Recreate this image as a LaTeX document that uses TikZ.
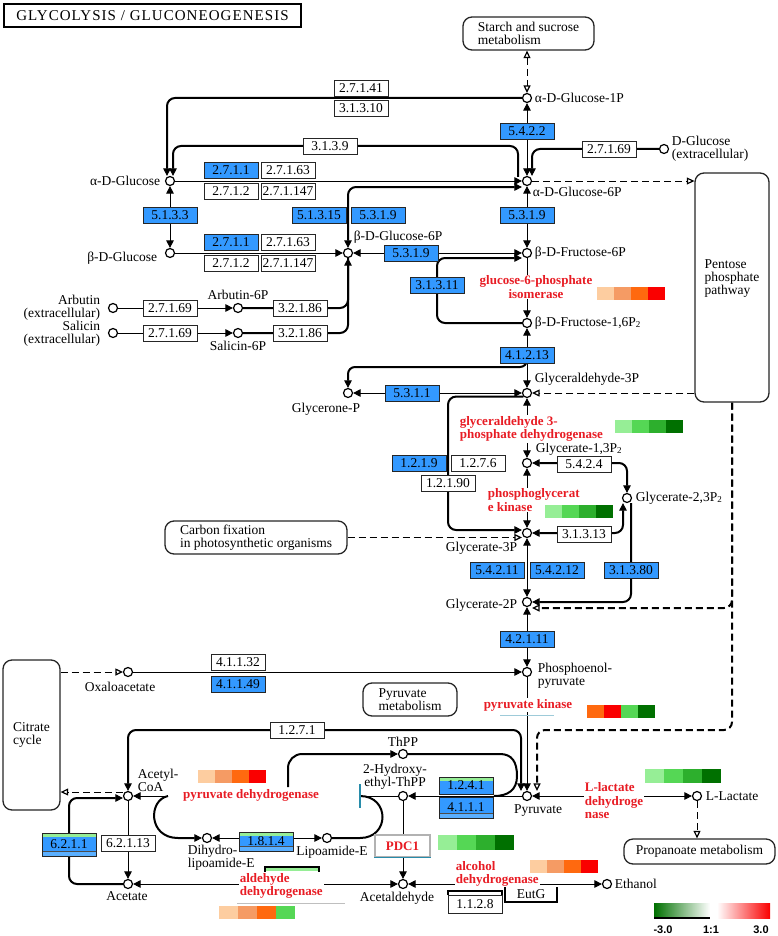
\documentclass[tikz,border=0pt]{standalone}
\usepackage{fontspec}
\setmainfont{Liberation Serif}
\setsansfont{Liberation Sans}
\newfontfamily\titrefont[LetterSpace=7]{Liberation Serif}
\usepackage{tikz}
\usepackage{xcolor}
\usetikzlibrary{arrows.meta,backgrounds,positioning}
\definecolor{bleuEC}{RGB}{51,153,255}
\definecolor{bleuClair}{RGB}{90,175,255}
\definecolor{rougeGene}{RGB}{232,28,36}
\definecolor{sarcelle}{RGB}{40,140,170}
\definecolor{peche}{RGB}{253,205,160}
\definecolor{saumon}{RGB}{245,155,100}
\definecolor{orangeV}{RGB}{255,105,15}
\definecolor{rougeV}{RGB}{250,0,0}
\definecolor{vert1}{RGB}{150,238,150}
\definecolor{vert2}{RGB}{85,215,85}
\definecolor{vert3}{RGB}{45,175,45}
\definecolor{vert4}{RGB}{0,112,0}
\newcommand{\Pdeux}{P\raisebox{-1.5pt}{\fontsize{9}{9}\selectfont 2}}
\newcommand{\Damier}[5]{\foreach \coul [count=\rang from 0] in {#5} {\fill[\coul] (#1+#3*\rang,#2) rectangle +(#3,#4);}}
\tikzset{
Compose/.style={
 circle, draw=black, fill=white, minimum size=9pt, inner sep=0pt, line width=1.2pt
 },
NomC/.style={
 font=\fontsize{13.5}{13}\selectfont, inner sep=1pt, align=left
 },
EnzB/.style={
 draw=black!85, fill=white, minimum width=54pt, minimum height=16pt, inner sep=0pt,
 line width=0.9pt, font=\fontsize{13.5}{13.5}\selectfont
 },
EnzBleu/.style={EnzB, fill=bleuEC},
BandeVerte/.style={
 path picture={\fill[vert1] (path picture bounding box.north west) rectangle ([yshift=-3.5pt]path picture bounding box.north east);}
 },
BandeBasse/.style={
 path picture={\fill[bleuClair] (path picture bounding box.south west) rectangle ([yshift=4.5pt]path picture bounding box.south east);
 \draw[line width=0.8pt,black!70] ([yshift=4.5pt]path picture bounding box.south west) -- ([yshift=4.5pt]path picture bounding box.south east);}
 },
BandeDouble/.style={
 path picture={\fill[vert1] (path picture bounding box.north west) rectangle ([yshift=-3.5pt]path picture bounding box.north east);
 \fill[bleuClair] (path picture bounding box.south west) rectangle ([yshift=4.5pt]path picture bounding box.south east);
 \draw[line width=0.8pt,black!70] ([yshift=4.5pt]path picture bounding box.south west) -- ([yshift=4.5pt]path picture bounding box.south east);}
 },
Carte/.style={
 draw=black!85, fill=white, rounded corners=9pt, line width=1.3pt, inner sep=0pt,
 align=left, font=\fontsize{13.5}{13}\selectfont
 },
Gene/.style={
 text=rougeGene, fill=white, inner sep=1pt, align=left, font=\bfseries\fontsize{13}{13.5}\selectfont
 },
Courbe/.style={line width=2pt},
Coude/.style={Courbe, rounded corners=8pt},
Pointille/.style={dash pattern=on 7pt off 4pt},
Fo/.tip={Triangle[open,length=7.5pt,width=7pt,line width=1.2pt]}
}
\begin{document}
\begin{tikzpicture}[x=1pt,y=-1pt,line width=1.7pt,>={Triangle[length=7.5pt,width=7.5pt,line width=0.8pt]}]
\useasboundingbox (0,0) rectangle (778,936);
\node[draw=black, line width=2.6pt, minimum width=297pt, minimum height=23pt, inner sep=0pt, font=\titrefont\fontsize{15}{15}\selectfont] (titre) at (152.5,15.5) {GLYCOLYSIS / GLUCONEOGENESIS};

\node[Carte, minimum width=131pt, minimum height=33pt] (amidon) at (528.5,33.5) {Starch and sucrose\\metabolism};
\node[Carte, minimum width=74pt, minimum height=229pt] (ppp) at (732,287.5) {};
\node[NomC] (tppp) at (732,279) {Pentose\\phosphate\\pathway};
\node[Carte, minimum width=182pt, minimum height=33pt] (fixc) at (256,537.5) {Carbon fixation\\in photosynthetic organisms};
\node[Carte, minimum width=57pt, minimum height=150pt] (citrate) at (31.5,735) {Citrate\\cycle};
\node[Carte, minimum width=94pt, minimum height=33pt] (pyrmet) at (410,699.5) {Pyruvate\\metabolism};
\node[Carte, minimum width=151pt, minimum height=25pt] (propa) at (699.5,851.5) {Propanoate metabolism};

\node[Compose] (g1p) at (527,98) {};
\node[NomC, right=1pt of g1p] (tg1p) {α-D-Glucose-1P};
\node[Compose] (g6p) at (527,181) {};
\node[NomC, anchor=west] (tg6p) at (531,192) {α-D-Glucose-6P};
\node[Compose] (dglce) at (664,149) {};
\node[NomC, right=1pt of dglce] (tdglce) {D-Glucose\\(extracellular)};
\node[Compose] (aglc) at (170,181) {};
\node[NomC, left=3pt of aglc] (taglc) {α-D-Glucose};
\node[Compose] (bglc) at (170,253) {};
\node[NomC, anchor=east] (tbglc) at (159,258) {β-D-Glucose};
\node[Compose] (bg6p) at (348,253) {};
\node[NomC, anchor=west] (tbg6p) at (352,237) {β-D-Glucose-6P};
\node[Compose] (f6p) at (527,253) {};
\node[NomC, right=1pt of f6p] (tf6p) {β-D-Fructose-6P};
\node[Compose] (f16p) at (527,323) {};
\node[NomC, right=1pt of f16p] (tf16p) {β-D-Fructose-1,6\Pdeux};
\node[Compose] (ga3p) at (527,393) {};
\node[NomC, anchor=west] (tga3p) at (533,379) {Glyceraldehyde-3P};
\node[Compose] (dhap) at (348,393) {};
\node[NomC] (tdhap) at (326,409) {Glycerone-P};
\node[Compose] (bpg13) at (527,463) {};
\node[NomC, anchor=west] (tbpg13) at (534,449) {Glycerate-1,3\Pdeux};
\node[Compose] (bpg23) at (627,498) {};
\node[NomC, right=2pt of bpg23] (tbpg23) {Glycerate-2,3\Pdeux};
\node[Compose] (pg3) at (527,533) {};
\node[NomC, anchor=east] (tpg3) at (519,548) {Glycerate-3P};
\node[Compose] (g2p) at (527,602) {};
\node[NomC, anchor=east] (tg2p) at (519,605) {Glycerate-2P};
\node[Compose] (pep) at (527,672) {};
\node[NomC, anchor=west] (tpep) at (536,676) {Phosphoenol-\\pyruvate};
\node[Compose] (oaa) at (128,672) {};
\node[NomC] (toaa) at (120,687) {Oxaloacetate};
\node[Compose] (pyr) at (527,796) {};
\node[NomC] (tpyr) at (538,811) {Pyruvate};
\node[Compose] (lac) at (697,796) {};
\node[NomC, right=2pt of lac] (tlac) {L-Lactate};
\node[Compose] (thpp) at (403,754) {};
\node[NomC] (tthpp) at (403,742) {ThPP};
\node[Compose] (hetpp) at (403,796) {};
\node[NomC, align=center] (thetpp) at (395,777) {2-Hydroxy-\\ethyl-ThPP};
\node[Compose] (acal) at (403,884) {};
\node[NomC] (tacal) at (397,898) {Acetaldehyde};
\node[Compose] (etoh) at (607,884) {};
\node[NomC, right=1pt of etoh] (tetoh) {Ethanol};
\node[Compose] (acoa) at (128,796) {};
\node[NomC, anchor=west] (tacoa) at (136,780) {Acetyl-\\CoA};
\node[Compose] (acet) at (128,884) {};
\node[NomC] (tacet) at (127,896) {Acetate};
\node[Compose] (dhl) at (207,838) {};
\node[NomC, anchor=west] (tdhl) at (186,858) {Dihydro-\\lipoamide-E};
\node[Compose] (lip) at (327,838) {};
\node[NomC] (tlip) at (332,852) {Lipoamide-E};
\node[Compose] (arb) at (113,308) {};
\node[NomC, align=right, anchor=east] (tarb) at (102,308) {Arbutin\\(extracellular)};
\node[Compose] (sal) at (113,333) {};
\node[NomC, align=right, anchor=east] (tsal) at (102,334) {Salicin\\(extracellular)};
\node[Compose] (arb6p) at (238,308) {};
\node[NomC, above=1pt of arb6p] (tarb6p) {Arbutin-6P};
\node[Compose] (sal6p) at (238,333) {};
\node[NomC, below=1pt of sal6p] (tsal6p) {Salicin-6P};

\node[EnzB] (e2741) at (361,88) {2.7.1.41};
\node[EnzB] (e31310) at (361,108) {3.1.3.10};
\node[EnzB] (e3139) at (330,146) {3.1.3.9};
\node[EnzBleu] (e2711a) at (231,170) {2.7.1.1};
\node[EnzB] (e27163a) at (288,170) {2.7.1.63};
\node[EnzB] (e2712a) at (231,191) {2.7.1.2};
\node[EnzB] (e271147a) at (288,191) {2.7.1.147};
\node[EnzBleu] (e5133) at (170,215) {5.1.3.3};
\node[EnzBleu] (e51315) at (319,215) {5.1.3.15};
\node[EnzBleu] (e5319a) at (378,215) {5.3.1.9};
\node[EnzBleu] (e2711b) at (231,242) {2.7.1.1};
\node[EnzB] (e27163b) at (288,242) {2.7.1.63};
\node[EnzB] (e2712b) at (231,263) {2.7.1.2};
\node[EnzB] (e271147b) at (288,263) {2.7.1.147};
\node[EnzBleu] (e5422) at (527,131) {5.4.2.2};
\node[EnzB] (e27169c) at (609,149) {2.7.1.69};
\node[EnzBleu] (e5319b) at (527,215) {5.3.1.9};
\node[EnzBleu] (e5319c) at (411,253) {5.3.1.9};
\node[EnzBleu] (e31311) at (437,285) {3.1.3.11};
\node[EnzB] (e27169a) at (170,308) {2.7.1.69};
\node[EnzB] (e27169b) at (170,333) {2.7.1.69};
\node[EnzB] (e32186a) at (300,308) {3.2.1.86};
\node[EnzB] (e32186b) at (300,333) {3.2.1.86};
\node[EnzBleu] (e41213) at (527,355) {4.1.2.13};
\node[EnzBleu] (e5311) at (412,393) {5.3.1.1};
\node[EnzBleu] (e1219) at (419,463) {1.2.1.9};
\node[EnzB] (e1276) at (478,463) {1.2.7.6};
\node[EnzB] (e12190) at (448,483) {1.2.1.90};
\node[EnzB] (e5424) at (584,464) {5.4.2.4};
\node[EnzB] (e31313) at (584,534) {3.1.3.13};
\node[EnzBleu] (e54211) at (497,570) {5.4.2.11};
\node[EnzBleu] (e54212) at (557,570) {5.4.2.12};
\node[EnzBleu] (e31380) at (631,570) {3.1.3.80};
\node[EnzBleu] (e42111) at (527,639) {4.2.1.11};
\node[EnzB] (e41132) at (238,662) {4.1.1.32};
\node[EnzBleu] (e41149) at (238,684) {4.1.1.49};
\node[EnzB] (e1271) at (297,730) {1.2.7.1};
\node[EnzBleu, BandeVerte, minimum height=17pt] (e1241) at (466,785.5) {1.2.4.1};
\node[EnzBleu, BandeBasse, minimum height=21pt] (e4111) at (466,807.5) {4.1.1.1};
\node[EnzBleu, BandeDouble, minimum height=23pt] (e6211) at (69,844.5) {6.2.1.1};
\node[EnzB] (e62113) at (128,843) {6.2.1.13};
\node[EnzBleu, BandeDouble, minimum height=19pt] (e1814) at (266,841.5) {1.8.1.4};
\node[EnzB, minimum height=18pt] (e1128) at (475,904.5) {1.1.2.8};
\node[NomC] (eutg) at (531,894) {EutG};
\node[draw=black!30, fill=white, minimum width=55pt, minimum height=22pt, inner sep=0pt, text=rougeGene, font=\bfseries\fontsize{13}{13}\selectfont] (pdc1) at (402.5,846) {PDC1};

\node[Gene, align=center] (g6pi) at (536,287) {glucose-6-phosphate\\isomerase};
\node[Gene, anchor=west] (gapdh) at (458,429) {glyceraldehyde 3-\\phosphate dehydrogenase};
\node[Gene, anchor=west] (pgk) at (486,500) {phosphoglycerat\\e kinase};
\node[Gene] (pk) at (528,705) {pyruvate kinase};
\node[Gene, anchor=west] (ldh) at (583,801) {L-lactate\\dehydroge\\nase};
\node[Gene] (pdh) at (251,795) {pyruvate dehydrogenase};
\node[Gene, anchor=west] (aldh) at (238,886) {aldehyde\\dehydrogenase};
\node[Gene, anchor=west] (adh) at (454,874) {alcohol\\dehydrogenase};

\Damier{597}{287}{17}{13}{peche,saumon,orangeV,rougeV}
\Damier{615}{420}{17}{13}{vert1,vert2,vert3,vert4}
\Damier{545}{505}{17}{13}{vert1,vert2,vert3,vert4}
\Damier{587}{705}{17}{13}{orangeV,rougeV,vert2,vert4}
\Damier{645}{769}{19}{14}{vert1,vert2,vert3,vert4}
\Damier{198}{770}{17}{13}{peche,saumon,orangeV,rougeV}
\Damier{219}{906}{19}{13}{peche,saumon,orangeV,vert2}
\Damier{438}{835}{19}{15}{vert1,vert2,vert3,vert4}
\Damier{530}{860}{17}{13}{peche,saumon,orangeV,rougeV}

\draw[sarcelle, line width=1.2pt] (pdc1.south west) -- (pdc1.south east);
\draw[sarcelle!45, line width=0.8pt] (500,715) -- (554,715);
\draw[black!25, line width=0.8pt] (237,903) -- (345,903);
\fill[vert1] (265,867) rectangle (319,871);
\draw[line width=1.2pt] (265,872) -- (265,867) -- (319,867) -- (319,872);
\draw[line width=1.2pt] (448,895) -- (448,891) -- (502,891) -- (502,895);
\draw[line width=1.2pt] (505,887) -- (505,902) -- (557,902) -- (557,887);
\draw[sarcelle, line width=1.6pt] (360,784) -- (360,808);

\shade[left color=vert4, right color=white] (654,903) rectangle (710,918);
\draw[line width=1.2pt] (654,918) -- (710,918);
\shade[left color=white, right color=rougeV] (717,903) rectangle (770,918);
\node[font=\sffamily\bfseries\fontsize{11}{11}\selectfont] (lgA) at (663,930) {-3.0};
\node[font=\sffamily\bfseries\fontsize{11}{11}\selectfont] (lgB) at (711,930) {1:1};
\node[font=\sffamily\bfseries\fontsize{11}{11}\selectfont] (lgC) at (761,930) {3.0};

\coordinate (c3139) at (518,177);
\coordinate (cAld) at (527,359);
\coordinate (cTh) at (288,787);
\coordinate (cBarre) at (360,796);
\coordinate (cPdh) at (168,796);
\begin{scope}[on background layer]
\draw[Pointille, Fo-Fo] (amidon.south -| g1p) -- (g1p);
\draw[<->] (g1p) -- (g6p);
\draw[->, Coude] (g1p) -| ([xshift=-3pt]aglc.north);
\draw[->, Coude] (c3139) |- (e3139.center) -| ([xshift=3pt]aglc.north);
\draw[->] (aglc) -- (g6p);
\draw[<->, Coude] (bg6p) |- ([yshift=-6pt]g6p.west);
\draw[->, Coude] (dglce) -| ([xshift=5pt]g6p.north);
\draw[<->] (aglc) -- (bglc);
\draw[->] (bglc) -- (bg6p);
\draw[<->] (bg6p) -- (f6p);
\draw[<->] (g6p) -- (f6p);
\draw[Pointille, -Fo] (g6p) -- (g6p -| ppp.west);
\draw[->] (arb) -- (arb6p);
\draw[->] (sal) -- (sal6p);
\draw[->, Coude] (arb6p) -| (bg6p);
\draw[Coude] (sal6p) -| (bg6p.south);
\draw[->] (f6p) -- (f16p);
\draw[->, Coude] (f16p) -| (e31311.center) |- ([yshift=-5pt]f6p.west);
\draw[<->] (f16p) -- (ga3p);
\draw[->, Coude, rounded corners=7pt] (cAld) -- (527,367) -| (dhap);
\draw[<->] (dhap) -- (ga3p);
\draw[Pointille, -Fo] (ppp.west |- ga3p) -- (ga3p);
\draw[<->] (ga3p) -- (bpg13);
\draw[->, Coude] (ga3p.south west) -| (e12190.center) |- ([yshift=3pt]pg3.west);
\draw[<->] (bpg13) -- (pg3);
\draw[<->, Coude] (bpg13) -| (bpg23);
\draw[<->, Coude] ([xshift=-4pt]bpg23.south) |- (pg3);
\draw[->, Coude] ([xshift=4pt]bpg23.south) |- (g2p);
\draw[Pointille, -Fo] (fixc.east) -- (fixc.east -| pg3.west);
\draw[<->] (pg3) -- (g2p);
\draw[Pointille, -Fo, Coude] (ppp.south) |- ([yshift=-6pt]g2p.east);
\draw[Pointille, -Fo, Coude] (ppp.south) |- (537,730) -- ([xshift=10pt]pyr.north);
\draw[<->] (g2p) -- (pep);
\draw[->] (oaa) -- (pep);
\draw[Pointille, -Fo] (citrate.east |- oaa) -- (oaa);
\draw[->] (pep) -- (pyr);
\draw[<->, Coude] ([xshift=-6pt]pyr.north) |- (e1271.center) -| (acoa);
\draw[<->] (pyr) -- (lac);
\draw[Pointille, -Fo] (lac) -- (lac |- propa.north);
\draw[->] (pyr) -- (hetpp);
\draw[->, Coude, rounded corners=14pt] (cTh) |- (thpp);
\draw[Courbe] (thpp) -- (500,754) .. controls (512,754) and (517,762) .. (517,776) .. controls (517,790) and (508,796) .. (494,796);
\draw (hetpp) -- (cBarre);
\draw[Courbe] (cBarre) .. controls (390,796) and (390,838) .. (360,838) -- (lip);
\draw[->] (hetpp) -- (acal);
\draw[<->] (acet) -- (acal);
\draw[<->] (acal) -- (etoh);
\draw[->] (cPdh) -- (acoa);
\draw[->, Courbe] (cPdh) .. controls (148,800) and (148,838) .. (178,838) -- (dhl);
\draw[<->] (dhl) -- (lip);
\draw[->] (acoa) -- (acet);
\draw[->, Coude] (acet) -| (e6211.center) |- ([yshift=-2pt]acoa.west);
\draw[Pointille, -Fo] ([yshift=4pt]acoa.west) -- ([yshift=4pt]acoa.west -| citrate.east);
\end{scope}
\end{tikzpicture}
\end{document}
